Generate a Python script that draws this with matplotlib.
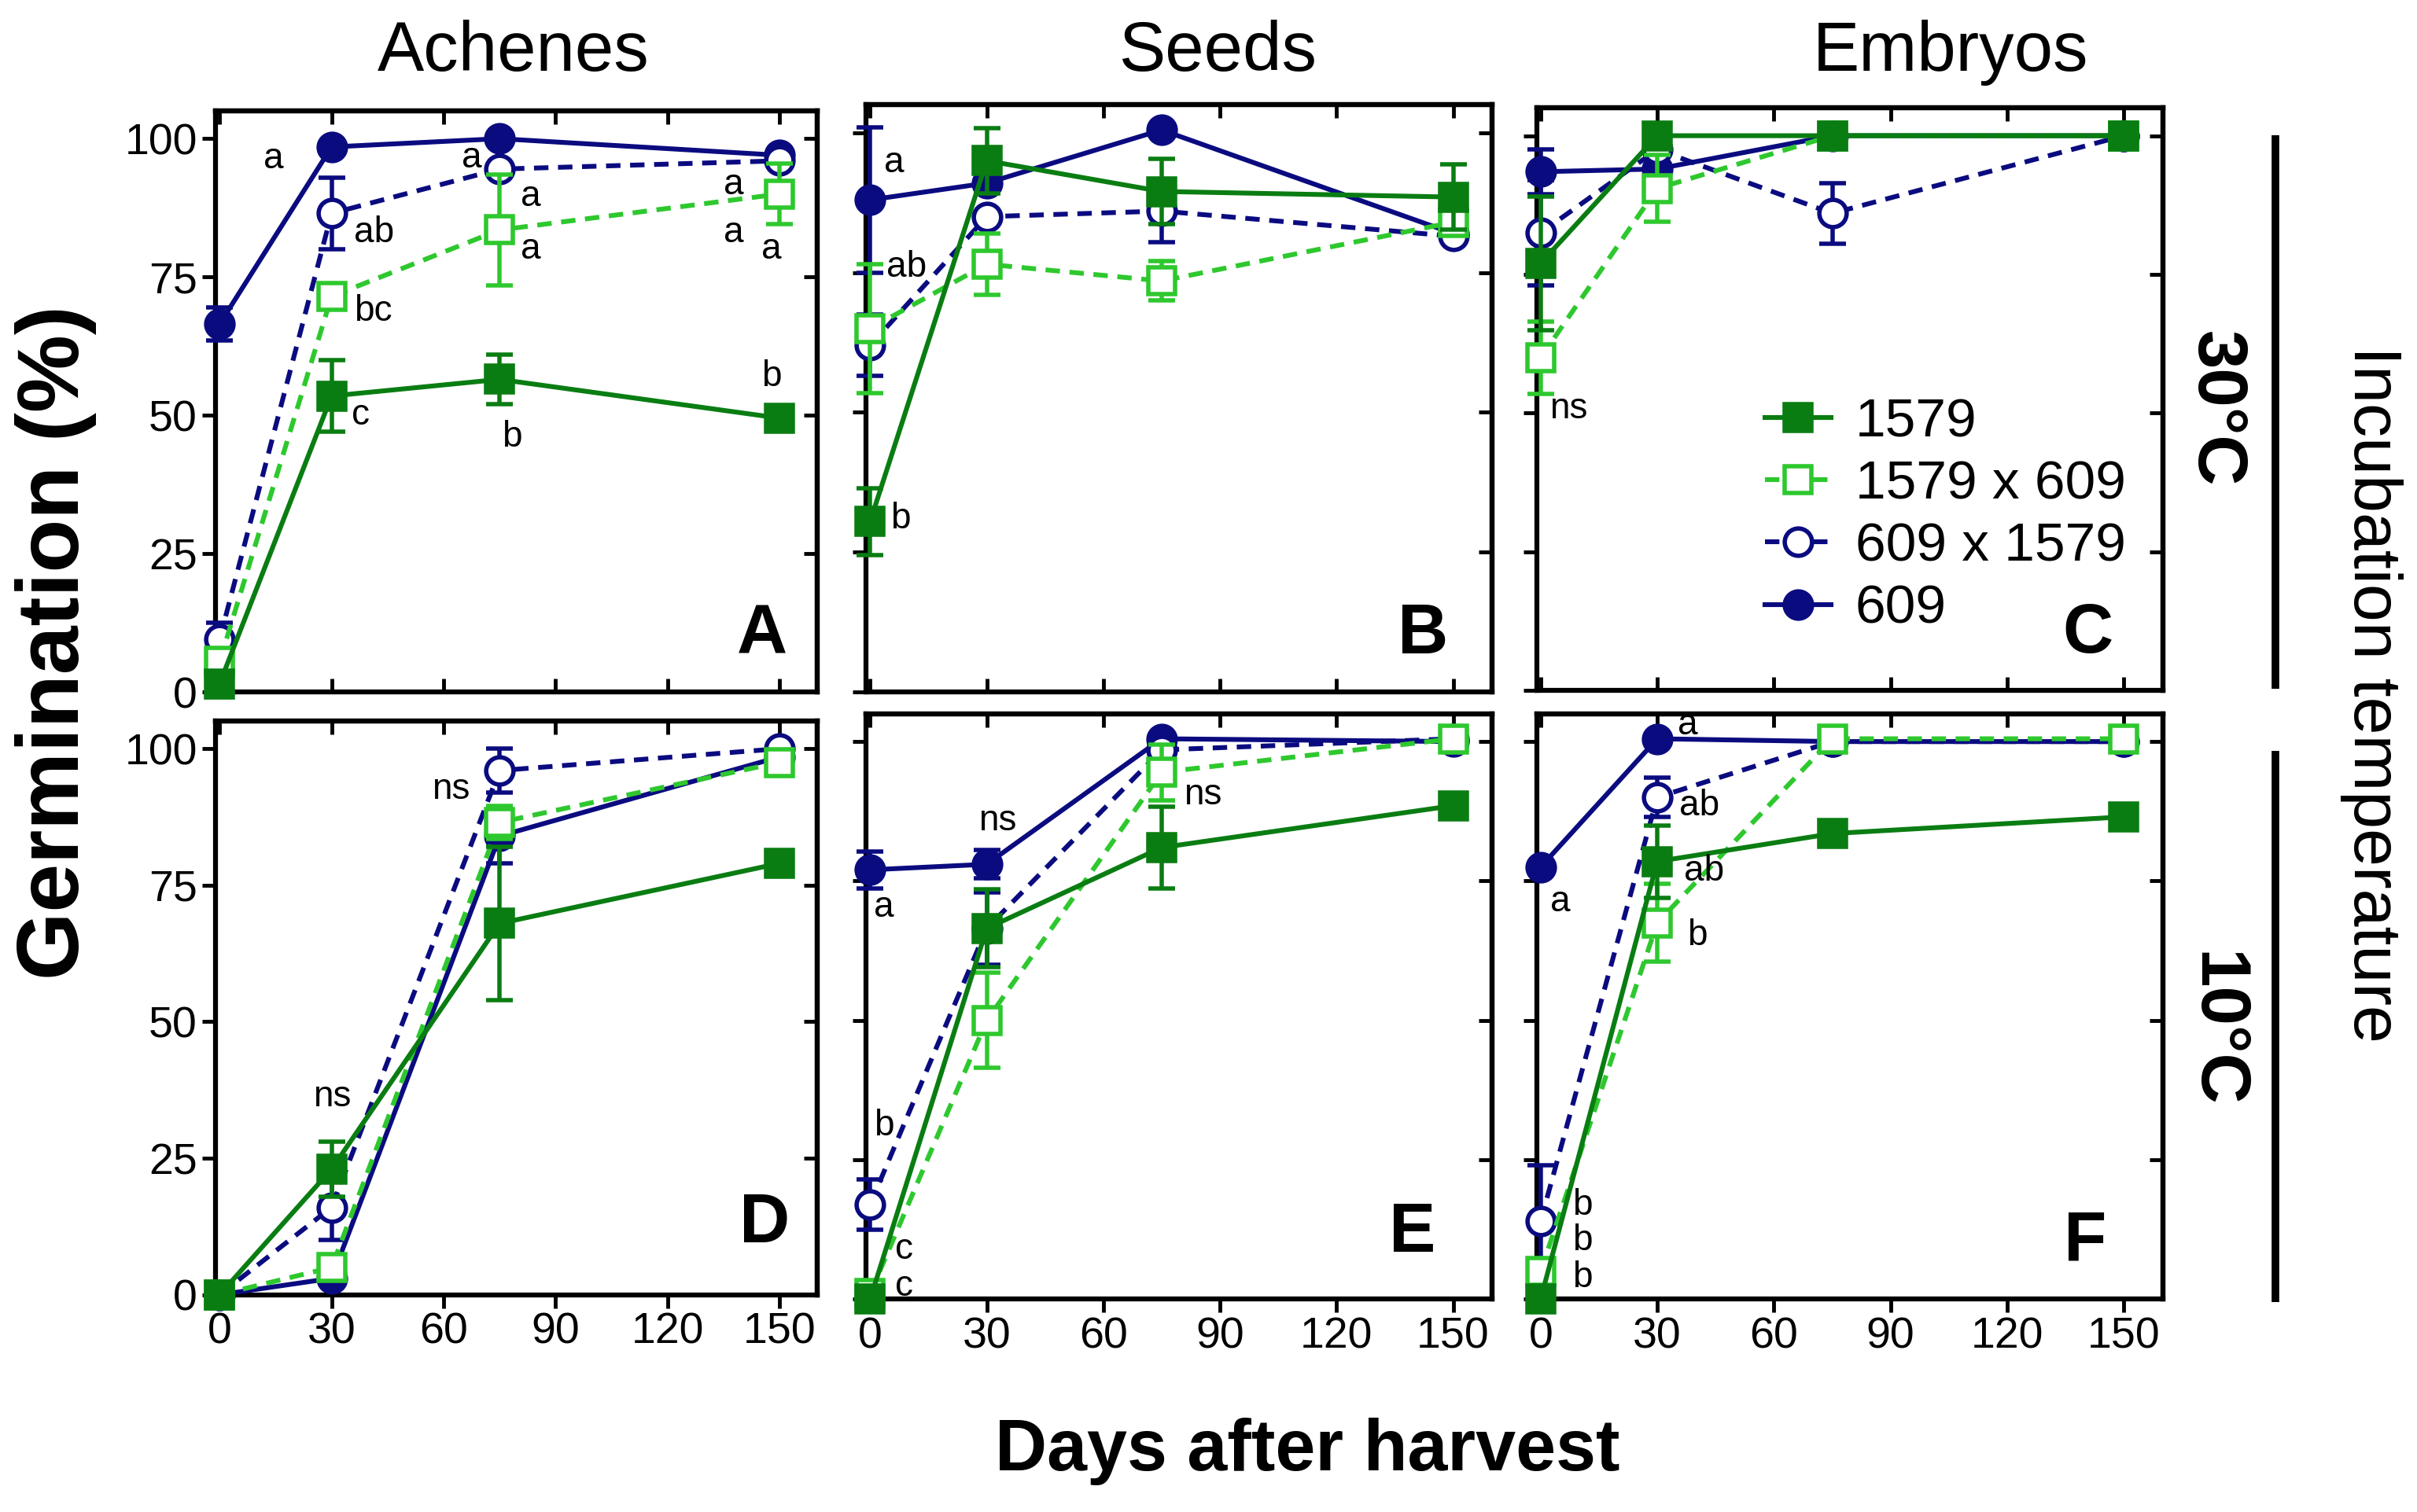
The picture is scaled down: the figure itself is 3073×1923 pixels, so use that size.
import numpy as np
import matplotlib
matplotlib.use('Agg')
import matplotlib.pyplot as plt
from matplotlib.lines import Line2D

plt.rcParams['font.family'] = ['Liberation Sans', 'DejaVu Sans']

# ---------------- data ----------------
days = [0, 30, 75, 150]
series = ['609', '609 x 1579', '1579 x 609', '1579']          # drawing order
legend_order = ['1579', '1579 x 609', '609 x 1579', '609']
panel_titles = ['Achenes', 'Seeds', 'Embryos']
panel_letters = ['A', 'B', 'C', 'D', 'E', 'F']
temps = ['30°C', '10°C']
y_ticks = [0, 25, 50, 75, 100]
x_ticks = [0, 30, 60, 90, 120, 150]

# mean germination (%) per series (order as in `series`)
a_mean = [[66.5, 98.5, 100, 97], [9.5, 86.5, 94.5, 96], [5.5, 71.5, 83.5, 90], [1.5, 53.5, 56.5, 49.5]]
a_err = [[3, 0, 0, 0], [3, 6.5, 0, 0], [0, 0, 10, 5.5], [0, 6.5, 4.5, 0]]
b_mean = [[88, 91, 100.5, 82], [62, 85, 86, 81.5], [65, 76.5, 73.5, 84], [30.5, 95, 89.5, 88.5]]
b_err = [[13, 0, 0, 0], [5.5, 0, 5.5, 0], [11.5, 5.5, 3.5, 0], [6, 5.8, 5.8, 5.8]]
c_mean = [[93.5, 94, 100, 100], [82.5, 97.5, 86, 100], [60, 90.5, 100, 100], [77, 100, 100, 100]]
c_err = [[4, 0, 0, 0], [9.5, 0, 5.5, 0], [6.5, 6, 0, 0], [12, 0, 0, 0]]
d_mean = [[0, 3, 84, 98.5], [0, 16, 96, 100], [0, 5, 86.5, 97.5], [0, 23, 68, 79]]
d_err = [[0, 0, 5, 0], [0, 6, 4, 0], [0, 0, 3, 0], [0, 5, 14, 0]]
e_mean = [[77, 78, 100.5, 100], [17, 66.5, 98.5, 100.5], [1, 50, 94.5, 100.5], [0, 66.5, 81, 88.5]]
e_err = [[3.3, 2.5, 0, 0], [4.5, 6.5, 0, 0], [0, 8.5, 5, 0], [0, 7, 7.3, 0]]
f_mean = [[77.5, 100.5, 100, 100], [14, 90, 100, 100], [5, 67.5, 100.5, 100.5], [0, 78.5, 83.5, 86.5]]
f_err = [[0, 0, 0, 0], [10, 3.5, 0, 0], [0, 7, 0, 0], [0, 6.5, 0, 0]]

# significance letters: (x, y, text, ha)
a_notes = [(14.5, 96.4, 'a', 'center'), (36, 83, 'ab', 'left'), (36, 68.8, 'bc', 'left'),
           (35.4, 50, 'c', 'left'), (67.5, 96.5, 'a', 'center'), (80.6, 89.5, 'a', 'left'),
           (80.6, 80, 'a', 'left'), (78.2, 46, 'b', 'center'), (137.7, 91.7, 'a', 'center'),
           (137.7, 83, 'a', 'center'), (147.8, 80, 'a', 'center'), (147.8, 57, 'b', 'center')]
b_notes = [(3.5, 94.6, 'a', 'left'), (4.1, 75.9, 'ab', 'left'), (5.3, 31, 'b', 'left')]
c_notes = [(2.3, 50.8, 'ns', 'left')]
d_notes = [(30.2, 36.2, 'ns', 'center'), (61.9, 92.5, 'ns', 'center')]
e_notes = [(1, 70.2, 'a', 'left'), (32.7, 85.8, 'ns', 'center'), (80.6, 90.4, 'ns', 'left'),
           (1, 31.1, 'b', 'left'), (6.5, 8.9, 'c', 'left'), (6.5, 2.3, 'c', 'left')]
f_notes = [(35.3, 103, 'a', 'left'), (35.6, 88.5, 'ab', 'left'), (2.4, 71.3, 'a', 'left'),
           (36.8, 76.7, 'ab', 'left'), (37.6, 65.2, 'b', 'left'), (8.2, 16.8, 'b', 'left'),
           (8.2, 10.5, 'b', 'left'), (8.2, 3.8, 'b', 'left')]

means = [a_mean, b_mean, c_mean, d_mean, e_mean, f_mean]
errs = [a_err, b_err, c_err, d_err, e_err, f_err]
notes = [a_notes, b_notes, c_notes, d_notes, e_notes, f_notes]

# ---------------- styles ----------------
NAVY = '#0b0b80'
DGREEN = '#0a7d12'
LGREEN = '#2ec82e'
styles = {
    '609': dict(color=NAVY, marker='o', mfc=NAVY, ls='-'),
    '609 x 1579': dict(color=NAVY, marker='o', mfc='white', ls=(0, (3, 2))),
    '1579 x 609': dict(color=LGREEN, marker='s', mfc='white', ls=(0, (3, 2))),
    '1579': dict(color=DGREEN, marker='s', mfc=DGREEN, ls='-'),
}

positions = [
    (0.0893, 0.5423, 0.2487, 0.3843),
    (0.3584, 0.5423, 0.2589, 0.3884),
    (0.6358, 0.5433, 0.2590, 0.3853),
    (0.0893, 0.1437, 0.2487, 0.3792),
    (0.3584, 0.1407, 0.2589, 0.3873),
    (0.6358, 0.1407, 0.2590, 0.3873),
]
letter_pos = [(0.95, 0.04), (0.93, 0.04), (0.92, 0.04), (0.955, 0.065), (0.91, 0.055), (0.91, 0.04)]

SPINE_LW = 4.5
TICK_LEN = 12
TICK_W = 3.5
LW = 4.4
MS = 25
TICK_FS = 40

fig = plt.figure(figsize=(30.73, 19.23), dpi=100)

handles = {}
for p in range(6):
    ax = fig.add_axes(positions[p])
    for i, name in enumerate(series):
        st = styles[name]
        y = np.array(means[p][i], dtype=float)
        e = np.array(errs[p][i], dtype=float)
        x = np.array(days, dtype=float)
        m = e > 0
        z = 3 + i
        if m.any():
            ax.errorbar(x[m], y[m], yerr=e[m], fmt='none', ecolor=st['color'],
                        elinewidth=LW * 0.9, capsize=12, capthick=LW * 0.9,
                        zorder=z, clip_on=False)
        ln, = ax.plot(x, y, color=st['color'], ls=st['ls'], lw=LW, marker=st['marker'],
                      ms=MS, mfc=st['mfc'], mec=st['color'], mew=4,
                      zorder=z + 0.5, clip_on=False, label=name)
        handles[name] = ln
    ax.set_xlim(-1, 160)
    ax.set_ylim(0, 105)
    ax.set_yticks(y_ticks)
    ax.set_xticks(x_ticks)
    for s in ax.spines.values():
        s.set_linewidth(SPINE_LW)
    top_row = p < 3
    ax.tick_params(axis='y', direction='out', length=TICK_LEN, width=TICK_W,
                   labelsize=TICK_FS, pad=5, labelleft=(p % 3 == 0))
    ax.tick_params(axis='x', direction='in' if top_row else 'out', length=TICK_LEN,
                   width=TICK_W, labelsize=TICK_FS, pad=4, labelbottom=not top_row)
    secy = ax.secondary_yaxis('right')
    secy.set_yticks(y_ticks)
    secy.set_yticklabels([])
    secy.tick_params(direction='in', length=TICK_LEN, width=TICK_W)
    for s in secy.spines.values():
        s.set_linewidth(SPINE_LW)
    secx = ax.secondary_xaxis('top')
    secx.set_xticks(x_ticks)
    secx.set_xticklabels([])
    secx.tick_params(direction='in', length=TICK_LEN, width=TICK_W)
    for s in secx.spines.values():
        s.set_linewidth(SPINE_LW)

    for (nx, ny, txt, ha) in notes[p]:
        ax.text(nx, ny, txt, ha=ha, va='center', fontsize=33, color='black', zorder=20)
    lx, ly = letter_pos[p]
    ax.text(lx, ly, panel_letters[p], transform=ax.transAxes, ha='right', va='bottom',
            fontsize=64, fontweight='bold', zorder=20)

    if p == 2:
        ax.legend([handles[n] for n in legend_order], legend_order, loc='center left',
                  bbox_to_anchor=(0.33, 0.30), frameon=False, fontsize=50,
                  handlelength=1.2, handletextpad=0.45, labelspacing=0.22,
                  borderaxespad=0)

# column titles
for tx, title in zip([0.2124, 0.504, 0.807], panel_titles):
    fig.text(tx, 0.965, title, ha='center', va='center', fontsize=64)

fig.text(0.023, 0.575, 'Germination (%)', rotation=90, ha='center', va='center',
         fontsize=80, fontweight='bold')
fig.text(0.541, 0.04, 'Days after harvest', ha='center', va='center',
         fontsize=66, fontweight='bold')

# right side labels
fig.text(0.9165, 0.730, temps[0], rotation=-90, ha='center', va='center',
         fontsize=64, fontweight='bold')
fig.text(0.9165, 0.319, temps[1], rotation=-90, ha='center', va='center',
         fontsize=64, fontweight='bold')
fig.add_artist(Line2D([0.9413, 0.9413], [0.5443, 0.9103], transform=fig.transFigure,
                      color='black', lw=7, solid_capstyle='butt'))
fig.add_artist(Line2D([0.9413, 0.9413], [0.1386, 0.5036], transform=fig.transFigure,
                      color='black', lw=7, solid_capstyle='butt'))
fig.text(0.981, 0.541, 'Incubation temperature', rotation=-90, ha='center', va='center',
         fontsize=62)

fig.savefig('out.png', dpi=100, facecolor='white')
